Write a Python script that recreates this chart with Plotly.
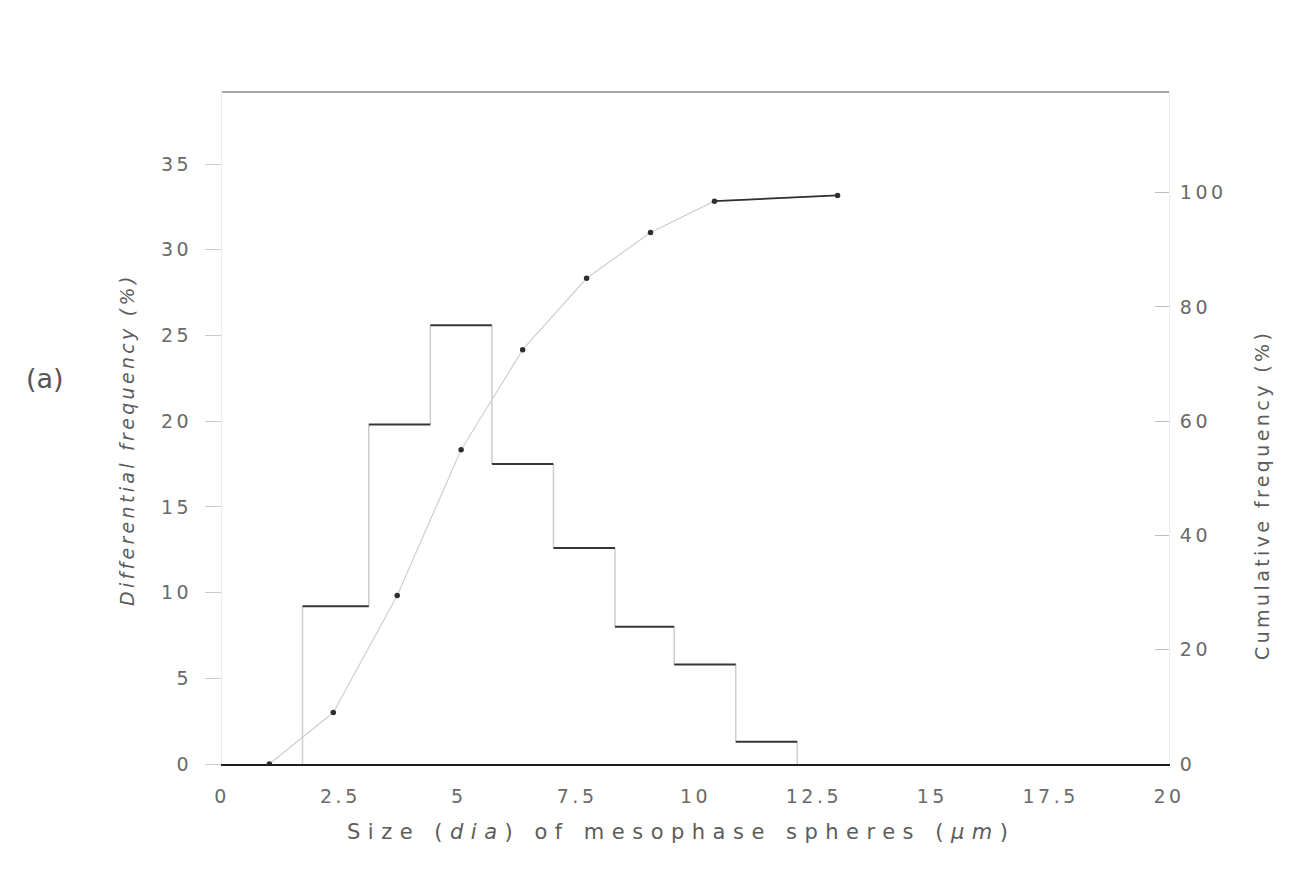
import plotly.graph_objects as go

# Size classes (bin edges, µm) and differential frequency per class (%)
bin_edges = [1.7, 3.1, 4.4, 5.7, 7.0, 8.3, 9.55, 10.85, 12.15]
diff_freq = [9.2, 19.8, 25.6, 17.5, 12.6, 8.0, 5.8, 1.3]

# Cumulative frequency (%) against sphere size (µm)
cum_size = [1.0, 2.35, 3.7, 5.05, 6.35, 7.7, 9.05, 10.4, 13.0]
cum_freq = [0.0, 9.0, 29.5, 55.0, 72.5, 85.0, 93.0, 98.5, 99.5]

x_ticks = [0, 2.5, 5, 7.5, 10, 12.5, 15, 17.5, 20]
x_ticktext = ["0", "2.5", "5", "7.5", "10", "12.5", "15", "17.5", "20"]
left_ticks = [0, 5, 10, 15, 20, 25, 30, 35]
right_ticks = [0, 20, 40, 60, 80, 100]

FONT = "DejaVu Sans"
TXT = "#6a6a6a"
TITLE = "#5c5c5c"

# plot-area geometry in pixels
L, R, T, B = 222, 144, 92, 105
W, H = 1313, 869
PH = H - T - B


def spaced(s, px):
    return f'<span style="letter-spacing:{px}px">{s}</span>'


def px_to_paper(xp, yp):
    return (xp - L) / (W - L - R), (H - B - yp) / PH


# histogram outline: horizontal treads and vertical risers
hx, hy = [], []
for i, v in enumerate(diff_freq):
    hx += [bin_edges[i], bin_edges[i + 1], None]
    hy += [v, v, None]

levels = [0] + diff_freq + [0]
vx, vy = [], []
for i, e in enumerate(bin_edges):
    vx += [e, e, None]
    vy += [levels[i], levels[i + 1], None]

fig = go.Figure()
fig.add_trace(go.Scatter(x=vx, y=vy, mode="lines",
                         line=dict(color="#cdcdcd", width=1.5),
                         hoverinfo="skip", yaxis="y"))
fig.add_trace(go.Scatter(x=hx, y=hy, mode="lines",
                         line=dict(color="#363636", width=2),
                         name="Differential", yaxis="y"))
fig.add_trace(go.Scatter(x=cum_size, y=cum_freq, mode="lines+markers",
                         line=dict(color="#cfcfcf", width=1.2),
                         marker=dict(color="#2e2e2e", size=5.5),
                         name="Cumulative", yaxis="y2"))
fig.add_trace(go.Scatter(x=cum_size[-2:], y=cum_freq[-2:], mode="lines",
                         line=dict(color="#303030", width=1.8),
                         hoverinfo="skip", yaxis="y2"))

tickfont = dict(size=19, color=TXT, family=FONT)

fig.update_layout(
    width=W, height=H,
    margin=dict(l=L, r=R, t=T, b=B),
    paper_bgcolor="white", plot_bgcolor="white",
    showlegend=False,
    font=dict(family=FONT, color=TXT, size=19),
    xaxis=dict(
        range=[0, 20], showgrid=False, zeroline=False,
        showline=True, linecolor="#1e1e1e", linewidth=2,
        tickvals=x_ticks, ticktext=[spaced(t, 3.5) for t in x_ticktext],
        ticks="", ticklabelstandoff=14, tickfont=tickfont,
    ),
    yaxis=dict(
        range=[0, 39.2], showgrid=False, zeroline=False,
        showline=True, linecolor="#ebebeb", linewidth=1,
        tickvals=left_ticks, ticktext=[spaced(str(t), 3.5) for t in left_ticks],
        ticks="outside", ticklen=16, tickcolor="#cbcbcb", ticklabelstandoff=9,
        tickfont=tickfont,
    ),
    yaxis2=dict(
        range=[0, 117.6], overlaying="y", side="right",
        showgrid=False, zeroline=False,
        showline=True, linecolor="#ebebeb", linewidth=1,
        tickvals=right_ticks, ticktext=[spaced(str(t), 3.5) for t in right_ticks],
        ticks="inside", ticklen=14, tickcolor="#bdbdbd", ticklabelstandoff=6,
        tickfont=tickfont,
    ),
)

# upper frame line
fig.add_shape(type="line", xref="paper", yref="paper", x0=0, x1=1, y0=1, y1=1,
              line=dict(color="#8a8a8a", width=1.3))

# axis titles
xt, yt = px_to_paper(681, 832)
fig.add_annotation(text=spaced("Size (<i>dia</i>) of mesophase spheres (<i>µm</i>)", 7.5),
                   xref="paper", yref="paper", x=xt, y=yt,
                   xanchor="center", yanchor="middle", showarrow=False,
                   font=dict(size=21, color=TITLE, family=FONT))

xt, yt = px_to_paper(127, 440)
fig.add_annotation(text=spaced("<i>Differential frequency (%)</i>", 3.3),
                   xref="paper", yref="paper", x=xt, y=yt, textangle=-90,
                   xanchor="center", yanchor="middle", showarrow=False,
                   font=dict(size=19, color=TITLE, family=FONT))

xt, yt = px_to_paper(1262, 495)
fig.add_annotation(text=spaced("Cumulative frequency (%)", 3.4),
                   xref="paper", yref="paper", x=xt, y=yt, textangle=-90,
                   xanchor="center", yanchor="middle", showarrow=False,
                   font=dict(size=19, color=TITLE, family=FONT))

# panel label
xt, yt = px_to_paper(45, 378)
fig.add_annotation(text="(a)", xref="paper", yref="paper", x=xt, y=yt,
                   xanchor="center", yanchor="middle", showarrow=False,
                   font=dict(size=27, color="#555555", family=FONT))

fig.write_html("out.html")
